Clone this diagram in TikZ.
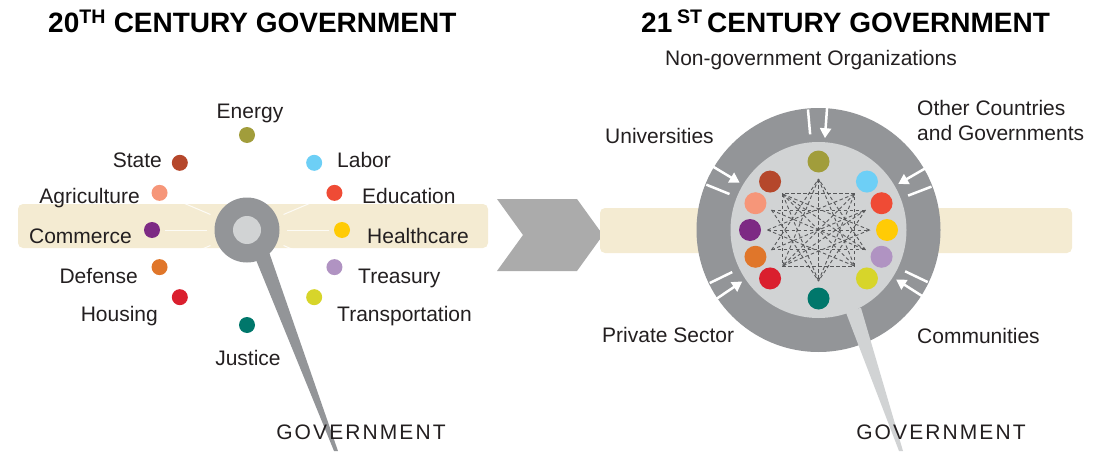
\documentclass[tikz,border=0pt]{standalone}
\usepackage{fontspec}
\setmainfont{Liberation Sans}
\newfontfamily\spacedfont[LetterSpace=10]{Liberation Sans}
\usetikzlibrary{calc,arrows.meta}

\definecolor{bandbeige}{HTML}{F4EBD2}
\definecolor{ringgray}{HTML}{939598}
\definecolor{discgray}{HTML}{D1D3D4}
\definecolor{arrowgray}{HTML}{ABABAB}
\definecolor{linkgray}{HTML}{58595B}
\definecolor{labeltext}{HTML}{231F20}
\definecolor{cenergy}{HTML}{A19D3B}
\definecolor{cstate}{HTML}{B5472B}
\definecolor{clabor}{HTML}{6DCFF6}
\definecolor{cagri}{HTML}{F69679}
\definecolor{ceduc}{HTML}{EF4B35}
\definecolor{ccomm}{HTML}{7D2A84}
\definecolor{cheal}{HTML}{FFCB05}
\definecolor{cdef}{HTML}{E0762A}
\definecolor{ctreas}{HTML}{B093C2}
\definecolor{chous}{HTML}{DA1F2E}
\definecolor{ctrans}{HTML}{D7D52A}
\definecolor{cjust}{HTML}{00776B}

\tikzset{
  band/.style={fill=bandbeige, rounded corners=5pt},
  ldot/.style={circle, inner sep=0pt, minimum size=16pt},
  rdot/.style={circle, inner sep=0pt, minimum size=22pt},
  lbl/.style={font=\fontsize{21}{25}\selectfont, text=labeltext, inner sep=0pt},
  ray/.style={white, line width=1pt, opacity=0.8, shorten <=7pt, shorten >=5pt},
  ringarrow/.style={white, line width=2.5pt, -{Triangle[length=10pt,width=11pt]}},
  ringsep/.style={white, line width=2.5pt},
  link/.style={linkgray, line width=0.9pt, dash pattern=on 3.5pt off 2.5pt},
  govtext/.style={font=\spacedfont\fontsize{21}{25}\selectfont, text=labeltext, inner sep=0pt, anchor=base},
  headline/.style={font=\bfseries\fontsize{28}{32}\selectfont, anchor=base west, inner sep=0pt},
}

\begin{document}
\begin{tikzpicture}[x=1pt, y=1pt]
    \useasboundingbox (0,0) rectangle (1101,451);

    % titles
    \node[headline] (title20) at (48,418) {20\textsuperscript{TH} CENTURY GOVERNMENT};
    \node[headline] (title21) at (641,418) {21\,\textsuperscript{ST}\,CENTURY GOVERNMENT};

    % 20th century
    \fill[band] (18,203) rectangle (488,247);
    \fill[ringgray] (254,196) -- (269,199) -- (338,0) -- (334,0) -- cycle;
    \node[circle, fill=ringgray, minimum size=65pt, inner sep=0pt] (oldhub) at (247,221) {};
    \node[circle, fill=discgray, minimum size=28pt, inner sep=0pt] (oldcore) at (oldhub) {};
    \foreach \a/\n in {90/energy, 135/state, 45/labor, 157/agri, 23/educ, 180/comm,
                       0/heal, 203/def, 337/treas, 225/hous, 315/trans, 270/just}
        \node[ldot, fill=c\n] (old-\n) at ($(oldhub)+(\a:95)$) {};
    \foreach \n in {energy, state, labor, agri, educ, comm, heal, def, treas, hous, trans, just}
        \draw[ray] (oldhub) -- (old-\n);

    \node[lbl, anchor=base] (l-energy) at (250,333) {Energy};
    \node[lbl, anchor=base east] (l-state) at (162,284) {State};
    \node[lbl, anchor=base west] (l-labor) at (337,284) {Labor};
    \node[lbl, anchor=base east] (l-agri) at (140,248) {Agriculture};
    \node[lbl, anchor=base west] (l-educ) at (362,248) {Education};
    \node[lbl, anchor=base east] (l-comm) at (132,208) {Commerce};
    \node[lbl, anchor=base west] (l-heal) at (367,208) {Healthcare};
    \node[lbl, anchor=base east] (l-def) at (138,168) {Defense};
    \node[lbl, anchor=base west] (l-treas) at (358,168) {Treasury};
    \node[lbl, anchor=base east] (l-hous) at (158,130) {Housing};
    \node[lbl, anchor=base west] (l-trans) at (337,130) {Transportation};
    \node[lbl, anchor=base] (l-just) at (248,86) {Justice};
    \node[govtext] (oldgov) at (361,12) {GOVERNMENT};

    % chevron
    \fill[arrowgray] (497,252) -- (577,252) -- (603,216) -- (577,180) -- (497,180) -- (523,216) -- cycle;

    % 21st century
    \fill[band] (600,198) rectangle (1072,243);
    \node[circle, fill=ringgray, minimum size=244pt, inner sep=0pt] (newring) at (818.5,221) {};
    \node[circle, fill=discgray, minimum size=176pt, inner sep=0pt] (newcore) at (newring) {};
    \fill[discgray] (845,141) -- (861,143) -- (903,0) -- (899,0) -- cycle;
    \foreach \a/\b in {86/95, 149/158, 30/21, 214/206, 327.5/334.5} {
        \draw[ringarrow] ($(newring)+(\a:123)$) -- ($(newring)+(\a:92)$);
        \draw[ringsep] ($(newring)+(\b:121)$) -- ($(newring)+(\b:96)$);
    }
    \foreach \a in {0, 23, 45, 90, 135, 157, 180, 203, 225, 270, 315, 337}
        \coordinate (n\a) at ($(newring)+(\a:51)$);
    \foreach \p/\q in {45/135, 135/225, 225/315, 315/45, 90/270, 90/225, 90/315,
                       270/135, 270/45, 135/315, 45/225, 157/23, 180/0, 203/337,
                       157/337, 203/23, 180/45, 180/315, 0/135, 0/225, 23/225,
                       337/135, 157/270, 203/90, 23/270, 337/90}
        \draw[link] (n\p) -- (n\q);
    \foreach \a/\n in {90/energy, 135/state, 45/labor, 157/agri, 23/educ, 180/comm,
                       0/heal, 203/def, 337/treas, 225/hous, 315/trans, 270/just}
        \node[rdot, fill=c\n] (new-\n) at ($(newring)+(\a:68.5)$) {};

    \node[lbl, anchor=base] (r-ngo) at (811,385) {Non-government Organizations};
    \node[lbl, anchor=base west] (r-univ) at (605,308) {Universities};
    \node[lbl, anchor=base west, align=left] (r-other) at (917,311) {Other Countries\\and Governments};
    \node[lbl, anchor=base west] (r-priv) at (602,109) {Private Sector};
    \node[lbl, anchor=base west] (r-comm) at (917,108) {Communities};
    \node[govtext] (newgov) at (941,12) {GOVERNMENT};
\end{tikzpicture}
\end{document}
